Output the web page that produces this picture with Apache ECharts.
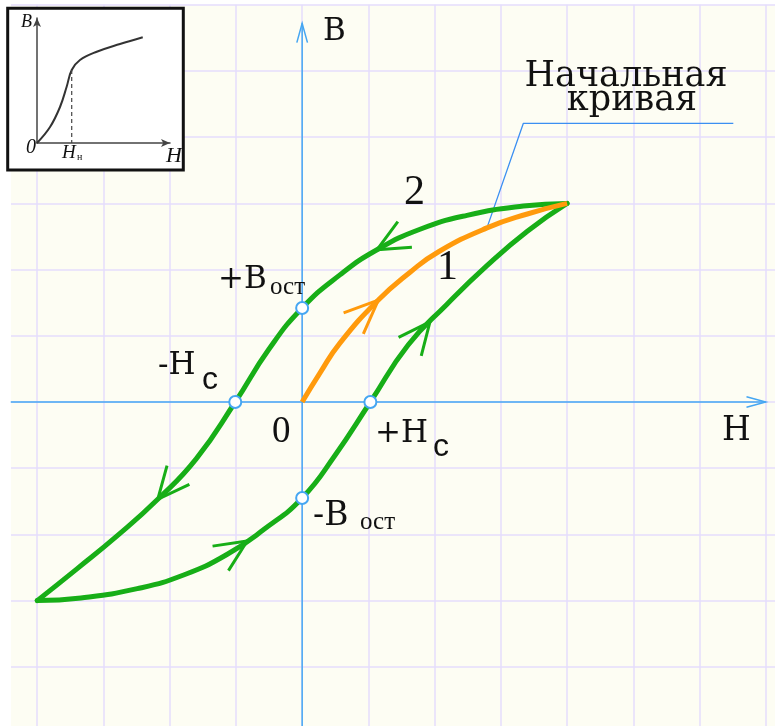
<!DOCTYPE html>
<html lang="ru">
<head>
<meta charset="utf-8">
<title>Петля гистерезиса</title>
<style>
  html, body { margin: 0; padding: 0; background: #fff; }
  #main { width: 775px; height: 726px; }
</style>
</head>
<body>
<div id="main"></div>
<script src="https://cdn.jsdelivr.net/npm/echarts@6/dist/echarts.min.js"></script>
<script>
// main loop, in grid units (one cell = 1)
var upperBranch = [[4.0, 3.0], [3.34, 2.96], [2.49, 2.82], [1.78, 2.61], [1.13, 2.30], [0.57, 1.92],
  [0, 1.42], [-0.5, 0.80], [-1.01, 0], [-1.6, -0.86], [-2.18, -1.47], [-2.79, -2.02],
  [-3.4, -2.52], [-4.0, -3.0]];
var lowerBranch = [[-4.0, -3.0], [-3.34, -2.96], [-2.49, -2.82], [-1.78, -2.61], [-1.13, -2.30],
  [-0.57, -1.92], [0, -1.45], [0.5, -0.80], [1.03, 0], [1.6, 0.86], [2.18, 1.47],
  [2.79, 2.06], [3.4, 2.58], [4.0, 3.0]];
var initialCurve = [[0, 0], [0.27, 0.44], [0.57, 0.89], [1.15, 1.54], [1.63, 1.96], [2.06, 2.27],
  [2.79, 2.63], [3.4, 2.84], [4.0, 3.0]];
var markedPoints = [[0, 1.42], [-1.01, 0], [1.03, 0], [0, -1.45]];
var leader = [[2.79, 2.63], [3.34, 4.21], [6.51, 4.21]];
var hAxisLine = [[-4.4, 0], [7.0, 0]];
var bAxisLine = [[0, -5], [0, 5.72]];
// arrows: tip x, tip y, a point behind the tip
var greenArrows = [[1.13, 2.30, 1.53, 2.52], [1.93, 1.21, 1.67, 0.89],
  [-2.18, -1.47, -1.87, -1.10], [-0.83, -2.10, -1.23, -2.36]];
var orangeArrows = [[1.15, 1.54, 0.82, 1.23]];
var axisArrows = [[7.0, 0, 6.7, 0], [0, 5.72, 0, 5.4]];

// inset: first magnetisation curve
var insetCurve = [[0, 0], [0.98, 1.28], [1.73, 2.88], [2.23, 4.5], [2.61, 5.84], [3.23, 6.64],
  [4.49, 7.3], [6.24, 7.92], [7.95, 8.46]];
var insetDash = [[2.61, 5.84], [2.61, 0]];

var green = '#17ae17', orange = '#ff9a0c', blue = '#45a6f2';

function chevron(len, half, color, width) {
  return function (params, api) {
    var tip = api.coord([api.value(0), api.value(1)]);
    var back = api.coord([api.value(2), api.value(3)]);
    var a = Math.atan2(back[1] - tip[1], back[0] - tip[0]);
    return {
      type: 'polyline',
      shape: { points: [
        [tip[0] + len * Math.cos(a - half), tip[1] + len * Math.sin(a - half)],
        tip,
        [tip[0] + len * Math.cos(a + half), tip[1] + len * Math.sin(a + half)]
      ] },
      style: { stroke: color, lineWidth: width, fill: null, lineJoin: 'miter' }
    };
  };
}

function txt(s, x, y, font, size, extra) {
  var st = { text: s, fontFamily: font, fontSize: size, fill: '#111', align: 'left', verticalAlign: 'middle' };
  for (var k in extra) st[k] = extra[k];
  return { type: 'text', x: x, y: y, z: 10, style: st };
}

var chart = echarts.init(document.getElementById('main'));
chart.setOption({
  animation: false,
  backgroundColor: '#fff',
  grid: [
    { left: -29, right: -57, top: 4.8, bottom: -7, outerBoundsMode: 'none', containLabel: false },
    { left: 37, top: 18, width: 133, height: 125, outerBoundsMode: 'none' }
  ],
  xAxis: [
    { type: 'value', min: -5, max: 8, interval: 1, axisLine: { show: false }, axisTick: { show: false },
      axisLabel: { show: false }, splitLine: { lineStyle: { color: '#e5dcfc', width: 1.5 } } },
    { type: 'value', gridIndex: 1, min: 0, max: 10, z: 6,
      axisLine: { show: true, onZero: false, symbol: ['none', 'arrow'], symbolSize: [6, 9], lineStyle: { color: '#444', width: 1.5 } },
      axisTick: { show: false }, axisLabel: { show: false }, splitLine: { show: false } }
  ],
  yAxis: [
    { type: 'value', min: -5, max: 6, interval: 1, axisLine: { show: false }, axisTick: { show: false },
      axisLabel: { show: false }, splitLine: { lineStyle: { color: '#e5dcfc', width: 1.5 } } },
    { type: 'value', gridIndex: 1, min: 0, max: 10, z: 6,
      axisLine: { show: true, onZero: false, symbol: ['none', 'arrow'], symbolSize: [6, 9], lineStyle: { color: '#444', width: 1.5 } },
      axisTick: { show: false }, axisLabel: { show: false }, splitLine: { show: false } }
  ],
  graphic: { elements: [
    { type: 'rect', z: -10, shape: { x: 11, y: 5, width: 764, height: 721 }, style: { fill: '#fdfdf3' } },
    { type: 'rect', z: 1, shape: { x: 0, y: 0, width: 11, height: 726 }, style: { fill: '#fff' } },
    { type: 'rect', z: 2, shape: { x: 7.7, y: 8.3, width: 175.6, height: 161.7 }, style: { fill: '#fff', stroke: '#111', lineWidth: 3 } },
    txt('+B', 218, 280, 'DejaVu Serif', 31),
    txt('ост', 270, 287, 'Liberation Serif', 25),
    txt('-H', 158, 366, 'DejaVu Serif', 31),
    txt('c', 202, 380, 'Liberation Sans', 32),
    txt('0', 272, 432, 'Liberation Serif', 37),
    txt('+H', 375, 434, 'DejaVu Serif', 31),
    txt('c', 433, 447, 'Liberation Sans', 32),
    txt('-B', 313, 516, 'DejaVu Serif', 33),
    txt('ост', 360, 522, 'Liberation Serif', 25),
    txt('2', 404, 193, 'Liberation Serif', 42),
    txt('1', 437, 268, 'Liberation Serif', 42),
    txt('B', 323, 32, 'DejaVu Serif', 31),
    txt('H', 722, 431, 'DejaVu Serif', 33),
    txt('Начальная', 626, 77, 'DejaVu Serif', 35, { align: 'center' }),
    txt('кривая', 632, 101, 'DejaVu Serif', 35, { align: 'center' }),
    txt('B', 21, 22, 'Liberation Serif', 18, { fontStyle: 'italic' }),
    txt('0', 26, 148, 'Liberation Serif', 20, { fontStyle: 'italic' }),
    txt('H', 62, 153, 'Liberation Serif', 19, { fontStyle: 'italic' }),
    txt('н', 77, 157, 'Liberation Serif', 10),
    txt('H', 166, 156, 'Liberation Serif', 22, { fontStyle: 'italic' })
  ] },
  series: [
    { type: 'line', data: hAxisLine, showSymbol: false, z: 2, lineStyle: { color: blue, width: 1.5 } },
    { type: 'line', data: bAxisLine, showSymbol: false, z: 2, lineStyle: { color: blue, width: 1.5 } },
    { type: 'custom', data: axisArrows, z: 2, renderItem: chevron(20, 0.27, blue, 1.5) },
    { type: 'line', data: leader, showSymbol: false, z: 2, lineStyle: { color: '#3b8ff2', width: 1.3 } },
    { type: 'line', data: upperBranch, smooth: 0.5, showSymbol: false, z: 3,
      lineStyle: { color: green, width: 5, cap: 'round' } },
    { type: 'line', data: lowerBranch, smooth: 0.5, showSymbol: false, z: 3,
      lineStyle: { color: green, width: 5, cap: 'round' } },
    { type: 'line', data: initialCurve, smooth: 0.5, showSymbol: false, z: 3,
      lineStyle: { color: orange, width: 5 } },
    { type: 'custom', data: greenArrows, z: 3, renderItem: chevron(35, 0.43, green, 3) },
    { type: 'custom', data: orangeArrows, z: 3, renderItem: chevron(37, 0.40, orange, 3) },
    { type: 'scatter', data: markedPoints, symbol: 'circle', symbolSize: 12, z: 4,
      itemStyle: { color: '#fff', opacity: 1, borderColor: blue, borderWidth: 2 } },
    { type: 'line', xAxisIndex: 1, yAxisIndex: 1, data: insetCurve, smooth: 0.4, showSymbol: false, z: 6,
      lineStyle: { color: '#333', width: 2 } },
    { type: 'line', xAxisIndex: 1, yAxisIndex: 1, data: insetDash, showSymbol: false, z: 6,
      lineStyle: { color: '#444', width: 1.2, type: [4, 3] } }
  ]
});
</script>
</body>
</html>
